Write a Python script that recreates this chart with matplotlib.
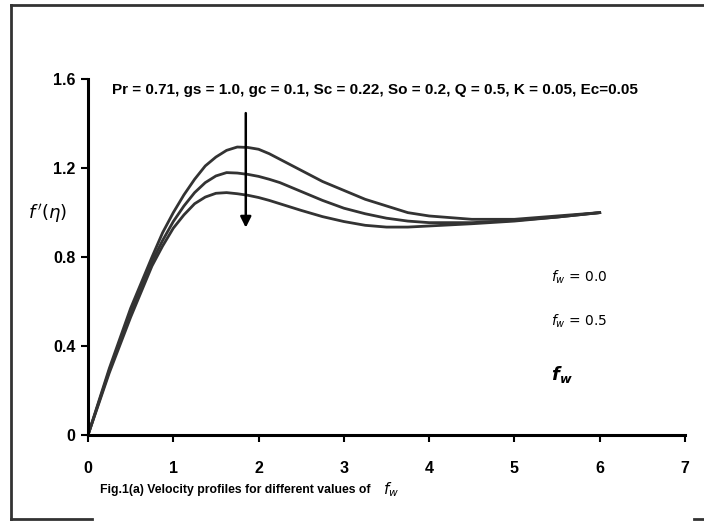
import matplotlib
matplotlib.use("Agg")
import matplotlib.pyplot as plt
from matplotlib.lines import Line2D

# eta grid and velocity profiles
eta = [0.0, 0.25, 0.5, 0.75, 0.875, 1.0, 1.125, 1.25, 1.375, 1.5, 1.625, 1.75,
       1.875, 2.0, 2.125, 2.25, 2.375, 2.5, 2.75, 3.0, 3.25, 3.5, 3.75, 4.0,
       4.5, 5.0, 5.5, 6.0]
fp_fw00 = [0.0, 0.30, 0.57, 0.80, 0.91, 1.00, 1.08, 1.15, 1.21, 1.25, 1.28, 1.295,
           1.293, 1.285, 1.265, 1.24, 1.215, 1.19, 1.14, 1.10, 1.06, 1.03, 1.00, 0.985,
           0.97, 0.97, 0.985, 1.0]
fp_fw05 = [0.0, 0.29, 0.55, 0.78, 0.875, 0.96, 1.03, 1.09, 1.135, 1.165, 1.18, 1.178,
           1.172, 1.163, 1.15, 1.135, 1.115, 1.095, 1.055, 1.02, 0.995, 0.975, 0.962, 0.955,
           0.955, 0.965, 0.98, 1.0]
fp_fw10 = [0.0, 0.28, 0.53, 0.76, 0.85, 0.93, 0.99, 1.04, 1.07, 1.087, 1.09, 1.085,
           1.078, 1.068, 1.055, 1.04, 1.025, 1.01, 0.982, 0.96, 0.943, 0.935, 0.935, 0.94,
           0.95, 0.962, 0.98, 1.0]

xticks = [0, 1, 2, 3, 4, 5, 6, 7]
yticks = [0, 0.4, 0.8, 1.2, 1.6]
ytick_labels = ["0", "0.4", "0.8", "1.2", "1.6"]

params = "Pr = 0.71, gs = 1.0, gc = 0.1, Sc = 0.22, So = 0.2, Q = 0.5, K = 0.05, Ec=0.05"
caption = "Fig.1(a) Velocity profiles for different values of"

fig = plt.figure(figsize=(7.04, 5.21), dpi=100)
ax = fig.add_axes([0.125, 0.165, 0.848, 0.683])

col = "#333333"
for fp in (fp_fw00, fp_fw05, fp_fw10):
    ax.plot(eta, fp, color=col, lw=2.0, solid_joinstyle="round")

ax.set_xlim(0, 7)
ax.set_ylim(0, 1.6)
ax.set_xticks(xticks)
ax.set_yticks(yticks)
ax.set_yticklabels(ytick_labels)
for s in ("top", "right"):
    ax.spines[s].set_visible(False)
for s in ("left", "bottom"):
    ax.spines[s].set_linewidth(2.2)
    ax.spines[s].set_color("black")
ax.tick_params(axis="both", direction="out", length=5, width=1.5, colors="black")
ax.tick_params(axis="x", pad=14)
ax.tick_params(axis="y", pad=4)
for lab in ax.get_xticklabels() + ax.get_yticklabels():
    lab.set_fontfamily(["Liberation Sans", "DejaVu Sans"])
    lab.set_fontweight("bold")
    lab.set_fontsize(11.5)

# arrow showing increasing f_w
ax.annotate("", xy=(1.85, 0.92), xytext=(1.85, 1.46),
            arrowprops=dict(arrowstyle="-|>", color="black", lw=1.8, mutation_scale=16))

ax.text(0.28, 1.55, params, fontsize=11, fontweight="bold",
        family=["Liberation Sans", "DejaVu Sans"],
        ha="left", va="center", color="black")

# curve labels
ax.text(5.43, 0.71, r"$f_w$ = 0.0", fontsize=10, ha="left", va="center")
ax.text(5.43, 0.51, r"$f_w$ = 0.5", fontsize=10, ha="left", va="center")
ax.text(5.43, 0.27, r"$\mathbfit{f_w}$", fontsize=13, ha="left", va="center")

# y label
fig.text(0.068, 0.59, r"$f\,'(\eta)$", fontsize=13, ha="center", va="center")

# caption, with f_w placed just after it
cap = fig.text(0.142, 0.06, caption, fontsize=8.8, fontweight="bold",
               family=["Liberation Sans", "DejaVu Sans"],
               ha="left", va="center")
ax.annotate(r"$f_w$", xy=(1, 0.5), xycoords=cap, xytext=(9, 0),
            textcoords="offset points", fontsize=11, ha="left", va="center",
            annotation_clip=False)

# surrounding frame (partly cropped as in the source image)
H = 521.0
W = 704.0
fc = "#333333"
fig.add_artist(Line2D([11 / W, 1.0], [1 - 5 / H, 1 - 5 / H], color=fc, lw=2, transform=fig.transFigure))
fig.add_artist(Line2D([11 / W, 11 / W], [1 - 5 / H, 1 - 519 / H], color=fc, lw=2, transform=fig.transFigure))
fig.add_artist(Line2D([11 / W, 92 / W], [1 - 519 / H, 1 - 519 / H], color=fc, lw=2, transform=fig.transFigure))
fig.add_artist(Line2D([694 / W, 1.0], [1 - 519 / H, 1 - 519 / H], color=fc, lw=2, transform=fig.transFigure))

fig.savefig("out.png", dpi=100)
